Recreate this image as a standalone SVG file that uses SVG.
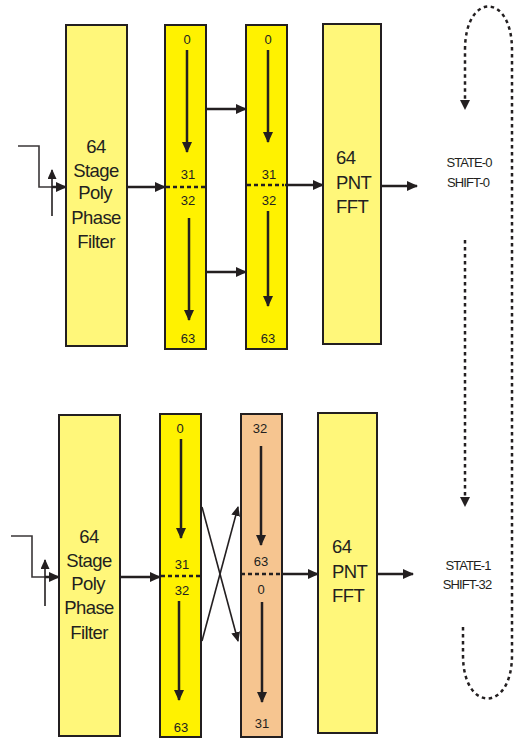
<svg xmlns="http://www.w3.org/2000/svg" width="514" height="738" viewBox="0 0 514 738">
<style>
  .box{stroke:#231f20;stroke-width:2}
  .lt{fill:#fff77a}
  .yl{fill:#fff200}
  .or{fill:#f6c590}
  text{font-family:"Liberation Sans",Arial,sans-serif;fill:#231f20}
  .big{font-size:18.5px;letter-spacing:-0.6px}
  .num{font-size:13px;text-anchor:middle}
  .st{font-size:13px;letter-spacing:-0.9px;text-anchor:middle}
  .mid{text-anchor:middle}
  .a{stroke:#231f20;stroke-width:2.5;fill:none}
  .thin{stroke:#231f20;stroke-width:1.6;fill:none}
  .in{stroke:#3a3637;stroke-width:1.6;fill:none}
  .dash{stroke:#231f20;stroke-width:2.5;stroke-dasharray:4 3;fill:none}
  .dot{stroke:#231f20;stroke-width:2.5;stroke-dasharray:3.5 3.5;fill:none}
</style>
<defs>
  <marker id="ah" markerUnits="userSpaceOnUse" markerWidth="11" markerHeight="10" refX="10" refY="5" orient="auto">
    <path d="M0,0 L11,5 L0,10 z" fill="#231f20"/>
  </marker>
  <marker id="ahs" markerUnits="userSpaceOnUse" markerWidth="10" markerHeight="9" refX="9" refY="4.5" orient="auto">
    <path d="M0,0 L10,4.5 L0,9 z" fill="#231f20"/>
  </marker>
</defs>

<!-- Top row -->
<g id="filter-top">
  <rect class="box lt" x="66" y="25" width="61" height="321"/>
  <text class="big mid" x="96" y="153">64</text>
  <text class="big mid" x="96" y="177">Stage</text>
  <text class="big mid" x="95" y="199">Poly</text>
  <text class="big mid" x="96" y="224">Phase</text>
  <text class="big mid" x="96" y="248">Filter</text>
</g>
<g id="buffer1-top">
  <rect class="box yl" x="165" y="25" width="41" height="324"/>
  <text class="num" x="187" y="44">0</text>
  <text class="num" x="188" y="179">31</text>
  <text class="num" x="188" y="205">32</text>
  <text class="num" x="188" y="343">63</text>
</g>
<g id="buffer2-top">
  <rect class="box yl" x="246" y="25" width="41" height="324"/>
  <text class="num" x="268" y="44">0</text>
  <text class="num" x="269" y="179">31</text>
  <text class="num" x="269" y="205">32</text>
  <text class="num" x="268" y="343">63</text>
</g>
<g id="fft-top">
  <rect class="box lt" x="323" y="24" width="58" height="320"/>
  <text class="big" x="336" y="164">64</text>
  <text class="big" x="336" y="189">PNT</text>
  <text class="big" x="336" y="213">FFT</text>
</g>
<g id="state0">
  <text class="st" x="469" y="167">STATE-0</text>
  <text class="st" x="468" y="187">SHIFT-0</text>
</g>

<!-- Bottom row -->
<g id="filter-bottom">
  <rect class="box lt" x="59" y="415" width="61" height="321"/>
  <text class="big mid" x="89" y="543">64</text>
  <text class="big mid" x="89" y="567">Stage</text>
  <text class="big mid" x="88" y="590">Poly</text>
  <text class="big mid" x="89" y="614">Phase</text>
  <text class="big mid" x="89" y="639">Filter</text>
</g>
<g id="buffer1-bottom">
  <rect class="box yl" x="160" y="414" width="41" height="323"/>
  <text class="num" x="180" y="433">0</text>
  <text class="num" x="182" y="569">31</text>
  <text class="num" x="182" y="595">32</text>
  <text class="num" x="181" y="732">63</text>
</g>
<g id="buffer2-bottom">
  <rect class="box or" x="241" y="414" width="41" height="323"/>
  <text class="num" x="260" y="433">32</text>
  <text class="num" x="261" y="566">63</text>
  <text class="num" x="261" y="594">0</text>
  <text class="num" x="262" y="728">31</text>
</g>
<g id="fft-bottom">
  <rect class="box lt" x="318" y="413" width="59" height="320"/>
  <text class="big" x="332" y="553">64</text>
  <text class="big" x="332" y="578">PNT</text>
  <text class="big" x="332" y="602">FFT</text>
</g>
<g id="state1">
  <text class="st" x="468" y="570">STATE-1</text>
  <text class="st" x="467" y="589">SHIFT-32</text>
</g>

<g id="connectors">
  <!-- top -->
  <polyline class="in" points="18,146 39,146 39,187 56,187"/>
  <line class="a" x1="52" y1="187" x2="66" y2="187" marker-end="url(#ah)"/>
  <line class="thin" x1="52" y1="216" x2="52" y2="170" marker-end="url(#ahs)"/>
  <line class="a" x1="127" y1="187" x2="165" y2="187" marker-end="url(#ah)"/>
  <line class="a" x1="187" y1="50" x2="187" y2="152" marker-end="url(#ah)"/>
  <line class="a" x1="189" y1="218" x2="189" y2="320" marker-end="url(#ah)"/>
  <line class="dash" x1="166" y1="187" x2="205" y2="187"/>
  <line class="a" x1="206" y1="109" x2="246" y2="109" marker-end="url(#ah)"/>
  <line class="a" x1="206" y1="272" x2="246" y2="272" marker-end="url(#ah)"/>
  <line class="a" x1="268" y1="50" x2="268" y2="142" marker-end="url(#ah)"/>
  <line class="a" x1="268" y1="211" x2="268" y2="306" marker-end="url(#ah)"/>
  <line class="dash" x1="247" y1="185" x2="284" y2="185"/>
  <line class="a" x1="285" y1="185" x2="323" y2="185" marker-end="url(#ah)"/>
  <line class="a" x1="381" y1="186" x2="417" y2="186" marker-end="url(#ah)"/>
  <!-- bottom -->
  <polyline class="in" points="11,536 32,536 32,577 49,577"/>
  <line class="a" x1="45" y1="577" x2="59" y2="577" marker-end="url(#ah)"/>
  <line class="thin" x1="45" y1="606" x2="45" y2="560" marker-end="url(#ahs)"/>
  <line class="a" x1="120" y1="577" x2="160" y2="577" marker-end="url(#ah)"/>
  <line class="a" x1="181" y1="439" x2="181" y2="538" marker-end="url(#ah)"/>
  <line class="a" x1="179" y1="601" x2="179" y2="700" marker-end="url(#ah)"/>
  <line class="dash" x1="161" y1="576" x2="200" y2="576"/>
  <line class="thin" x1="202" y1="507" x2="238" y2="641" marker-end="url(#ahs)"/>
  <line class="thin" x1="202" y1="641" x2="238" y2="507" marker-end="url(#ahs)"/>
  <line class="a" x1="261" y1="446" x2="261" y2="545" marker-end="url(#ah)"/>
  <line class="a" x1="262" y1="602" x2="262" y2="702" marker-end="url(#ah)"/>
  <line class="dash" x1="241" y1="574" x2="281" y2="574"/>
  <line class="a" x1="282" y1="574" x2="318" y2="574" marker-end="url(#ah)"/>
  <line class="a" x1="377" y1="574" x2="413" y2="574" marker-end="url(#ah)"/>
  <!-- state loop -->
  <path class="dot" d="M463,627 L463,655 C463,713 512,713 512,655 L512,50 C512,-8 465,-8 465,50 L465,101"/>
  <path d="M460,100 L470,100 L465,110 z" fill="#231f20"/>
  <path class="dot" d="M465,240 L465,498"/>
  <path d="M460,497 L470,497 L465,507 z" fill="#231f20"/>
</g>
</svg>
